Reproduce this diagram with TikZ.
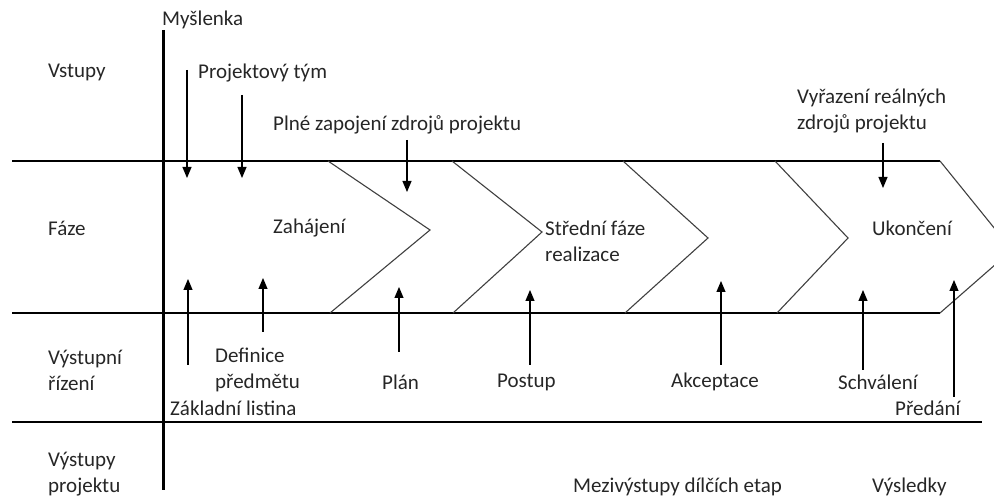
\documentclass[tikz,border=0pt]{standalone}
\usepackage{fontspec}
\setmainfont{Carlito}
\usetikzlibrary{arrows.meta}
\tikzset{
  lbl/.style={anchor=west, inner sep=0pt, align=left, font=\fontsize{21}{26}\selectfont, text=black!85},
  thickline/.style={line width=2.8pt, black},
  chev/.style={line width=1.1pt, black!75},
  arr/.style={line width=1.1pt, -{Triangle[width=9pt,length=11pt]}},
}
\begin{document}
\begin{tikzpicture}[x=1pt,y=-1pt]
\useasboundingbox (0,0) rectangle (994,502);
\clip (0,0) rectangle (994,502);
% main lines
\coordinate (vt) at (163,30);
\coordinate (vb) at (163,490);
\coordinate (t0) at (12,161);
\coordinate (t1) at (940,161);
\coordinate (m0) at (12,313);
\coordinate (m1) at (940,313);
\coordinate (b0) at (12,422);
\coordinate (b1) at (982,422);
\draw[thickline] (t0) -- (t1);
\draw[thickline] (m0) -- (m1);
\draw[thickline] (b0) -- (b1);
\draw[line width=3pt] (vt) -- (vb);
% chevrons
\draw[chev] (328,161) -- (430,230) -- (330,313);
\draw[chev] (452,161) -- (542,232) -- (453,313);
\draw[chev] (623,161) -- (708,238) -- (625,313);
\draw[chev] (775,161) -- (848,238) -- (777,313);
\draw[chev] (t1) -- (1012,250) -- (m1);
% texts
\node[lbl] (mys) at (162,20) {Myšlenka};
\node[lbl] (vst) at (48,72) {Vstupy};
\node[lbl] (pt) at (198,73) {Projektový tým};
\node[lbl] (plne) at (273,125) {Plné zapojení zdrojů projektu};
\node[lbl] (vyr) at (797,111) {Vyřazení reálných\\zdrojů projektu};
\node[lbl] (faze) at (48,228) {Fáze};
\node[lbl] (zah) at (273,228) {Zahájení};
\node[lbl] (stred) at (545,241) {Střední fáze\\realizace};
\node[lbl] (ukon) at (872,228) {Ukončení};
\node[lbl] (vyri) at (48,370) {Výstupní\\řízení};
\node[lbl] (def) at (215,370) {Definice\\předmětu};
\node[lbl] (zakl) at (170,408) {Základní listina};
\node[lbl] (plan) at (382,382) {Plán};
\node[lbl] (post) at (497,382) {Postup};
\node[lbl] (akc) at (671,382) {Akceptace};
\node[lbl] (schv) at (838,382) {Schválení};
\node[lbl] (pred) at (895,408) {Předání};
\node[lbl] (vyp) at (48,474) {Výstupy\\projektu};
\node[lbl] (mezi) at (573,487) {Mezivýstupy dílčích etap};
\node[lbl] (vysl) at (872,487) {Výsledky};
% arrow endpoints
\coordinate (d1a) at (187,70);  \coordinate (d1b) at (187,178);
\coordinate (d2a) at (242,95);  \coordinate (d2b) at (242,178);
\coordinate (d3a) at (407,140); \coordinate (d3b) at (407,192);
\coordinate (d4a) at (883,143); \coordinate (d4b) at (883,188);
\coordinate (u1a) at (188,365); \coordinate (u1b) at (188,279);
\coordinate (u2a) at (263,332); \coordinate (u2b) at (263,278);
\coordinate (u3a) at (399,352); \coordinate (u3b) at (399,287);
\coordinate (u4a) at (530,365); \coordinate (u4b) at (530,290);
\coordinate (u5a) at (721,365); \coordinate (u5b) at (721,281);
\coordinate (u6a) at (863,370); \coordinate (u6b) at (863,290);
\coordinate (u7a) at (954,397); \coordinate (u7b) at (954,280);
\foreach \i in {1,2,3,4} \draw[arr] (d\i a) -- (d\i b);
\foreach \i in {1,...,7} \draw[arr] (u\i a) -- (u\i b);
\end{tikzpicture}
\end{document}
